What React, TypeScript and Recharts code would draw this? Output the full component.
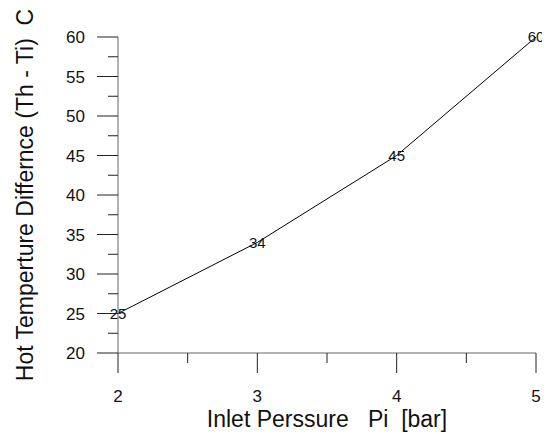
import { LineChart, Line, XAxis, YAxis } from 'recharts';

const pressures = [2, 3, 4, 5];
const tempDiffs = [25, 34, 45, 60];

const xMajor = [2, 3, 4, 5];
const xMinor = [2.5, 3.5, 4.5];
const yMajor = [20, 25, 30, 35, 40, 45, 50, 55, 60];
const yMinor = [22.5, 27.5, 32.5, 37.5, 42.5, 47.5, 52.5, 57.5];

const data = pressures.map((p, i) => ({ p, dt: tempDiffs[i] }));

const FONT = 'Arial, "Liberation Sans", sans-serif';
const TICK = '#222';

// eslint-disable-next-line @typescript-eslint/no-explicit-any
function XTick({ x, y, payload }: any) {
  const major = xMajor.includes(payload.value);
  return (
    <g>
      <line x1={x} y1={y} x2={x} y2={y + (major ? 20 : 10)} stroke={TICK} strokeWidth={1} />
      {major && (
        <text x={x} y={y + 37} dy="0.71em" textAnchor="middle" fontSize={17} fill="#111" fontFamily={FONT}>
          {payload.value}
        </text>
      )}
    </g>
  );
}

// eslint-disable-next-line @typescript-eslint/no-explicit-any
function YTick({ x, y, payload }: any) {
  const major = yMajor.includes(payload.value);
  return (
    <g>
      <line x1={x - (major ? 21 : 10)} y1={y} x2={x} y2={y} stroke={TICK} strokeWidth={1} />
      {major && (
        <text x={x - 33} y={y} dy="0.355em" textAnchor="end" fontSize={17} fill="#111" fontFamily={FONT}>
          {payload.value}
        </text>
      )}
    </g>
  );
}

// eslint-disable-next-line @typescript-eslint/no-explicit-any
function PointLabel({ x, y, value }: any) {
  return (
    <text x={x} y={y} dy="0.355em" textAnchor="middle" fontSize={15} fill="#111" fontFamily={FONT}>
      {value}
    </text>
  );
}

export default function App() {
  return (
    <LineChart
      width={542}
      height={426}
      data={data}
      margin={{ top: 29, right: 14, left: 10, bottom: 0 }}
      style={{ fontFamily: FONT }}
    >
      <XAxis
        dataKey="p"
        type="number"
        domain={[2, 5]}
        ticks={[...xMajor, ...xMinor].sort((a, b) => a - b)}
        interval={0}
        height={81}
        tickSize={0}
        tickMargin={0}
        tickLine={false}
        axisLine={{ stroke: '#666', strokeWidth: 1 }}
        tick={<XTick />}
        label={{
          value: 'Inlet Perssure\u00a0\u00a0\u00a0Pi\u00a0\u00a0[bar]',
          position: 'insideBottom',
          offset: 7,
          style: { fontSize: 23, fill: '#111', fontFamily: FONT },
        }}
      />
      <YAxis
        type="number"
        domain={[20, 60]}
        ticks={[...yMajor, ...yMinor].sort((a, b) => a - b)}
        interval={0}
        width={100}
        tickSize={0}
        tickMargin={0}
        tickLine={false}
        axisLine={{ stroke: '#666', strokeWidth: 1 }}
        tick={<YTick />}
        label={{
          value: 'Hot Temperture Differnce (Th - Ti)\u00a0\u00a0C',
          angle: -90,
          position: 'insideLeft',
          offset: 7,
          style: { fontSize: 23, fill: '#111', fontFamily: FONT, textAnchor: 'middle' },
        }}
      />
      <Line
        dataKey="dt"
        type="linear"
        stroke="#000"
        strokeWidth={1}
        dot={false}
        isAnimationActive={false}
        label={<PointLabel />}
      />
    </LineChart>
  );
}
